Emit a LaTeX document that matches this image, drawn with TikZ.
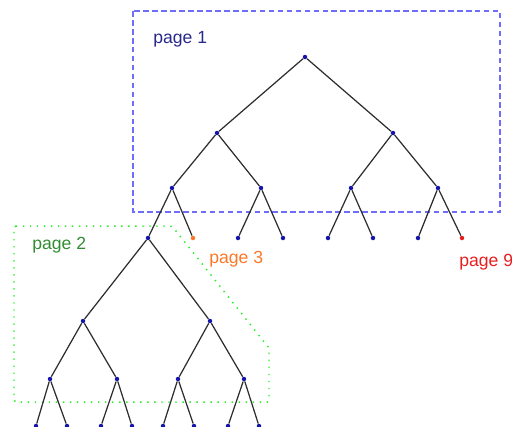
\documentclass[tikz,border=0pt]{standalone}
\usepackage{fontspec}
\setmainfont{Liberation Sans}
\usepackage{xcolor}
\definecolor{dotblue}{RGB}{20, 20, 170}
\definecolor{boxblue}{RGB}{110, 110, 250}
\definecolor{boxgreen}{RGB}{40, 240, 40}
\definecolor{textblue}{RGB}{40, 40, 140}
\definecolor{textgreen}{RGB}{50, 140, 50}
\definecolor{leaforange}{RGB}{250, 120, 40}
\definecolor{leafred}{RGB}{230, 30, 30}
\definecolor{edgegray}{RGB}{45, 45, 45}

\begin{document}
\begin{tikzpicture}[x=0.02cm, y=-0.02cm,
  vtx/.style={circle, fill=dotblue, inner sep=0pt, minimum size=0.09cm},
  edge/.style={edgegray, line width=0.7pt},
  pagelbl/.style={font=\fontsize{10}{12}\selectfont, anchor=base west, inner sep=0pt}]

  \useasboundingbox (0,0) rectangle (512,427);

  % page boxes
  \draw[boxblue, line width=0.8pt, dash pattern=on 3.2pt off 1.9pt] (133,11) rectangle (500,212);
  \draw[boxgreen, line width=0.85pt, dash pattern=on 0.8pt off 3.2pt, rounded corners=1pt]
    (14,226) -- (172,226) -- (269,348) -- (269,402) -- (14,402) -- cycle;

  % upper tree (page 1)
  \node[vtx] (t) at (305,57) {};
  \node[vtx] (t0) at (217,133) {};
  \node[vtx] (t1) at (393,133) {};
  \node[vtx] (t00) at (172,188) {};
  \node[vtx] (t01) at (261,188) {};
  \node[vtx] (t10) at (351,188) {};
  \node[vtx] (t11) at (438,188) {};
  \node[vtx] (s) at (148,238) {};
  \node[vtx, fill=leaforange] (t001) at (193,238) {};
  \node[vtx] (t010) at (238,238) {};
  \node[vtx] (t011) at (283,238) {};
  \node[vtx] (t100) at (328,238) {};
  \node[vtx] (t101) at (373,238) {};
  \node[vtx] (t110) at (418,238) {};
  \node[vtx, fill=leafred] (t111) at (462,238) {};

  % lower tree (page 2)
  \node[vtx] (s0) at (83,321) {};
  \node[vtx] (s1) at (210,321) {};
  \node[vtx] (s00) at (50,379) {};
  \node[vtx] (s01) at (117,379) {};
  \node[vtx] (s10) at (178,379) {};
  \node[vtx] (s11) at (244,379) {};
  \node[vtx] (s000) at (36,426) {};
  \node[vtx] (s001) at (67,426) {};
  \node[vtx] (s010) at (101,426) {};
  \node[vtx] (s011) at (132,426) {};
  \node[vtx] (s100) at (163,426) {};
  \node[vtx] (s101) at (194,426) {};
  \node[vtx] (s110) at (228,426) {};
  \node[vtx] (s111) at (259,426) {};

  % edges
  \foreach \a/\b in {t/t0, t/t1, t0/t00, t0/t01, t1/t10, t1/t11,
                     t00/s, t00/t001, t01/t010, t01/t011, t10/t100, t10/t101, t11/t110, t11/t111,
                     s/s0, s/s1, s0/s00, s0/s01, s1/s10, s1/s11,
                     s00/s000, s00/s001, s01/s010, s01/s011, s10/s100, s10/s101, s11/s110, s11/s111}
    \draw[edge] (\a) -- (\b);

  % labels
  \node[pagelbl, textblue] (lbl1) at (153,43) {page 1};
  \node[pagelbl, textgreen] (lbl2) at (32,249) {page 2};
  \node[pagelbl, leaforange] (lbl3) at (209,263) {page 3};
  \node[pagelbl, leafred] (lbl9) at (459,266) {page 9};

\end{tikzpicture}
\end{document}
